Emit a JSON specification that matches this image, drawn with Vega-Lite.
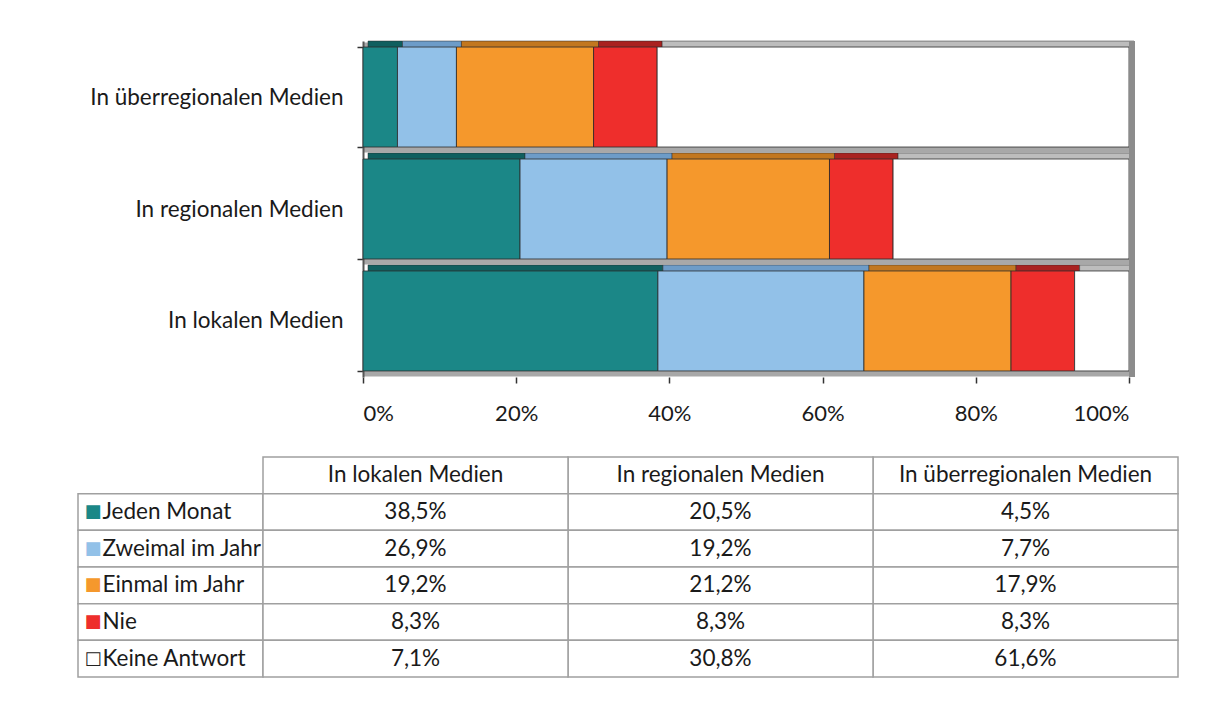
{
  "$schema": "https://vega.github.io/schema/vega-lite/v6.json",
  "background": "white",
  "padding": {"left": 77, "top": 30, "right": 0, "bottom": 0},
  "config": {
    "font": "Lato",
    "view": {"stroke": null},
    "locale": {"number": {"decimal": ",", "thousands": ".", "grouping": [3], "currency": ["", " €"]}},
    "axis": {"labelFont": "Lato", "labelColor": "#1a1a1a", "title": null, "labelLimit": 0}
  },
  "datasets": {
    "umfrage": [
      {"medium": "In überregionalen Medien", "freq": "Jeden Monat", "pct": 0.045},
      {"medium": "In überregionalen Medien", "freq": "Zweimal im Jahr", "pct": 0.077},
      {"medium": "In überregionalen Medien", "freq": "Einmal im Jahr", "pct": 0.179},
      {"medium": "In überregionalen Medien", "freq": "Nie", "pct": 0.083},
      {"medium": "In überregionalen Medien", "freq": "Keine Antwort", "pct": 0.616},
      {"medium": "In regionalen Medien", "freq": "Jeden Monat", "pct": 0.205},
      {"medium": "In regionalen Medien", "freq": "Zweimal im Jahr", "pct": 0.192},
      {"medium": "In regionalen Medien", "freq": "Einmal im Jahr", "pct": 0.212},
      {"medium": "In regionalen Medien", "freq": "Nie", "pct": 0.083},
      {"medium": "In regionalen Medien", "freq": "Keine Antwort", "pct": 0.308},
      {"medium": "In lokalen Medien", "freq": "Jeden Monat", "pct": 0.385},
      {"medium": "In lokalen Medien", "freq": "Zweimal im Jahr", "pct": 0.269},
      {"medium": "In lokalen Medien", "freq": "Einmal im Jahr", "pct": 0.192},
      {"medium": "In lokalen Medien", "freq": "Nie", "pct": 0.083},
      {"medium": "In lokalen Medien", "freq": "Keine Antwort", "pct": 0.071}
    ]
  },
  "spacing": 32,
  "vconcat": [
    {
      "width": 1051,
      "height": 336,
      "data": {"name": "umfrage"},
      "transform": [
        {"calculate": "indexof(['Jeden Monat', 'Zweimal im Jahr', 'Einmal im Jahr', 'Nie', 'Keine Antwort'], datum.freq)", "as": "rang"}
      ],
      "layer": [
        {
          "mark": {"type": "bar", "xOffset": 5, "yOffset": -6, "stroke": "#2b2b2b", "strokeWidth": 0.5},
          "encoding": {
            "y": {
              "field": "medium", "type": "nominal",
              "sort": ["In überregionalen Medien", "In regionalen Medien", "In lokalen Medien"],
              "scale": {"paddingInner": 0.107, "paddingOuter": 0.054},
              "axis": {
                "offset": -285,
                "tickBand": "extent", "tickSize": 6, "tickColor": "#333333", "tickWidth": 1.5,
                "domain": true, "domainColor": "#555555", "domainWidth": 2,
                "grid": true, "gridColor": "#a8a8a8", "gridWidth": 10,
                "labelFontSize": 22.5, "labelPadding": 14
              }
            },
            "x": {
              "field": "pct", "type": "quantitative", "stack": "zero",
              "scale": {"domain": [0, 1], "nice": false, "range": [285, 1051]},
              "axis": {
                "values": [0, 0.2, 0.4, 0.6, 0.8, 1], "format": ".0%",
                "labelFontSize": 22, "labelPadding": 20,
                "tickSize": 6, "tickColor": "#333333", "tickWidth": 1.5,
                "domain": false, "grid": false
              }
            },
            "order": {"field": "rang"},
            "fill": {
              "field": "freq", "type": "nominal", "legend": null,
              "scale": {
                "domain": ["Jeden Monat", "Zweimal im Jahr", "Einmal im Jahr", "Nie", "Keine Antwort"],
                "range": ["#0f5f5f", "#6d9cc8", "#c2771f", "#a92220", "#bdbdbd"]
              }
            }
          }
        },
        {
          "mark": {"type": "bar", "stroke": "#2b2b2b", "strokeWidth": 0.8},
          "encoding": {
            "y": {"field": "medium", "type": "nominal", "sort": ["In überregionalen Medien", "In regionalen Medien", "In lokalen Medien"]},
            "x": {"field": "pct", "type": "quantitative", "stack": "zero"},
            "order": {"field": "rang"},
            "color": {
              "field": "freq", "type": "nominal", "legend": null,
              "scale": {
                "domain": ["Jeden Monat", "Zweimal im Jahr", "Einmal im Jahr", "Nie", "Keine Antwort"],
                "range": ["#1b8787", "#92c1e8", "#f5982c", "#ee2e2c", "#ffffff"]
              }
            }
          }
        },
        {
          "mark": {"type": "rule", "color": "#8c8c8c", "strokeWidth": 5, "xOffset": 3},
          "encoding": {"x": {"datum": 1}}
        }
      ]
    },
    {
      "spacing": 0,
      "bounds": "flush",
      "hconcat": [
        {
          "width": 185,
          "height": 220,
          "data": {"name": "umfrage"},
          "transform": [{"filter": "datum.medium === 'In lokalen Medien'"}],
          "mark": {"type": "rect", "fill": "white", "stroke": "#a0a0a0", "strokeWidth": 1.5},
          "encoding": {
            "y": {
              "field": "freq", "type": "nominal",
              "scale": {"domain": [" ", "Jeden Monat", "Zweimal im Jahr", "Einmal im Jahr", "Nie", "Keine Antwort"], "paddingInner": 0, "paddingOuter": 0},
              "axis": {
                "ticks": false, "tickSize": 0, "domain": false, "grid": false,
                "labelExpr": "datum.value === ' ' ? '' : datum.value === 'Keine Antwort' ? '□' : '■'",
                "labelAlign": "left", "labelPadding": -6,
                "labelFont": "DejaVu Sans", "labelFontSize": 18,
                "labelColor": {"expr": "datum.value === 'Jeden Monat' ? '#1b8787' : datum.value === 'Zweimal im Jahr' ? '#92c1e8' : datum.value === 'Einmal im Jahr' ? '#f5982c' : datum.value === 'Nie' ? '#ee2e2c' : '#222222'"}
              }
            }
          }
        },
        {
          "width": 915,
          "height": 220,
          "data": {"name": "umfrage"},
          "layer": [
            {
              "transform": [{"filter": "datum.freq === 'Jeden Monat'"}],
              "mark": {"type": "rect", "fill": "white", "stroke": "#a0a0a0", "strokeWidth": 1.5},
              "encoding": {
                "x": {"field": "medium", "type": "nominal", "axis": null,
                      "scale": {"domain": ["In lokalen Medien", "In regionalen Medien", "In überregionalen Medien"], "paddingInner": 0, "paddingOuter": 0}},
                "y": {"datum": " ", "type": "nominal",
                      "scale": {"domain": [" ", "Jeden Monat", "Zweimal im Jahr", "Einmal im Jahr", "Nie", "Keine Antwort"], "paddingInner": 0, "paddingOuter": 0}}
              }
            },
            {
              "transform": [{"filter": "datum.freq === 'Jeden Monat'"}],
              "mark": {"type": "text", "fontSize": 22.5, "color": "#1a1a1a"},
              "encoding": {
                "x": {"field": "medium", "type": "nominal"},
                "y": {"datum": " ", "type": "nominal"},
                "text": {"field": "medium"}
              }
            },
            {
              "mark": {"type": "rect", "fill": "white", "stroke": "#a0a0a0", "strokeWidth": 1.5},
              "encoding": {
                "x": {"field": "medium", "type": "nominal"},
                "y": {
                  "field": "freq", "type": "nominal",
                  "axis": {
                    "ticks": false, "tickSize": 0, "domain": false, "grid": false,
                    "labelExpr": "datum.value === ' ' ? '' : datum.label",
                    "labelAlign": "left", "labelPadding": 161, "labelFontSize": 22.5
                  }
                }
              }
            },
            {
              "mark": {"type": "text", "fontSize": 22.5, "color": "#1a1a1a"},
              "encoding": {
                "x": {"field": "medium", "type": "nominal"},
                "y": {"field": "freq", "type": "nominal"},
                "text": {"field": "pct", "type": "quantitative", "format": ".1%"}
              }
            }
          ]
        }
      ]
    }
  ]
}
